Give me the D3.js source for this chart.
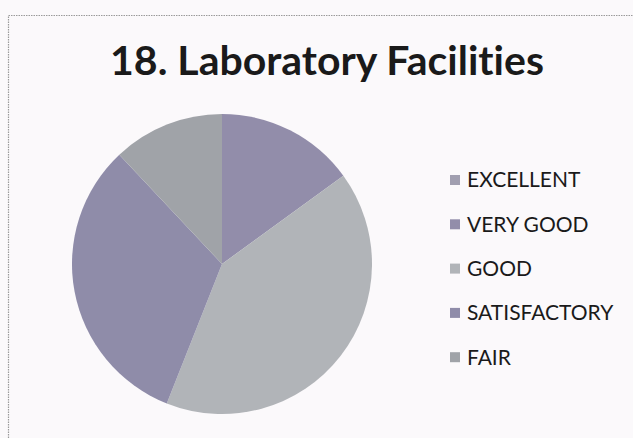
<!DOCTYPE html>
<html>
<head>
<meta charset="utf-8">
<script src="https://cdn.jsdelivr.net/npm/d3@7"></script>
<style>
  html, body { margin: 0; padding: 0; background: #fbf9fb; }
  svg { display: block; }
  text { font-variant-ligatures: none; }
</style>
</head>
<body>
<svg id="chart" width="633" height="438"></svg>
<script>
// Survey responses for laboratory facilities (percent of respondents)
const categories = ["EXCELLENT", "VERY GOOD", "GOOD", "SATISFACTORY", "FAIR"];
const values = [0, 15, 41, 32, 12];
const colors = ["#a19fb0", "#928daa", "#b1b4b8", "#8f8ca9", "#a0a3a8"];
const title = "18. Laboratory Facilities";

const svg = d3.select("#chart");
const W = 633, H = 438;

// page frame (dotted edge of the chart area)
svg.append("path")
  .attr("d", `M8.5,${H} L8.5,15.5 L${W},15.5`)
  .attr("fill", "none")
  .attr("stroke", "#9a9a9a")
  .attr("stroke-width", 1.2)
  .attr("stroke-dasharray", "1.5,1");

// title
svg.append("text")
  .attr("x", 327)
  .attr("y", 75)
  .attr("text-anchor", "middle")
  .attr("font-family", "Lato, 'Open Sans', sans-serif")
  .attr("font-weight", 700)
  .attr("font-size", 41)
  .attr("fill", "#1a1a1a")
  .text(title);

// pie
const data = categories.map((c, i) => ({ cat: c, value: values[i], color: colors[i] }));
const pie = d3.pie().value(d => d.value).sort(null);
const radius = 150;
const arc = d3.arc().innerRadius(0).outerRadius(radius);
const g = svg.append("g").attr("transform", "translate(222,264)");
g.selectAll("path")
  .data(pie(data))
  .join("path")
  .attr("d", arc)
  .attr("fill", d => d.data.color)
  .attr("stroke", "none");

// legend
const legend = svg.append("g").attr("transform", "translate(450,180)");
const step = 44.3;
const item = legend.selectAll("g")
  .data(data)
  .join("g")
  .attr("transform", (d, i) => `translate(0,${i * step})`);
item.append("rect")
  .attr("x", 0).attr("y", -5)
  .attr("width", 10).attr("height", 10)
  .attr("fill", d => d.color);
item.append("text")
  .attr("x", 17)
  .attr("y", 0)
  .attr("dy", "0.35em")
  .attr("font-family", "Lato, 'Open Sans', sans-serif")
  .attr("font-size", 21)
  .attr("fill", "#1a1a1a")
  .text(d => d.cat);
</script>
</body>
</html>
